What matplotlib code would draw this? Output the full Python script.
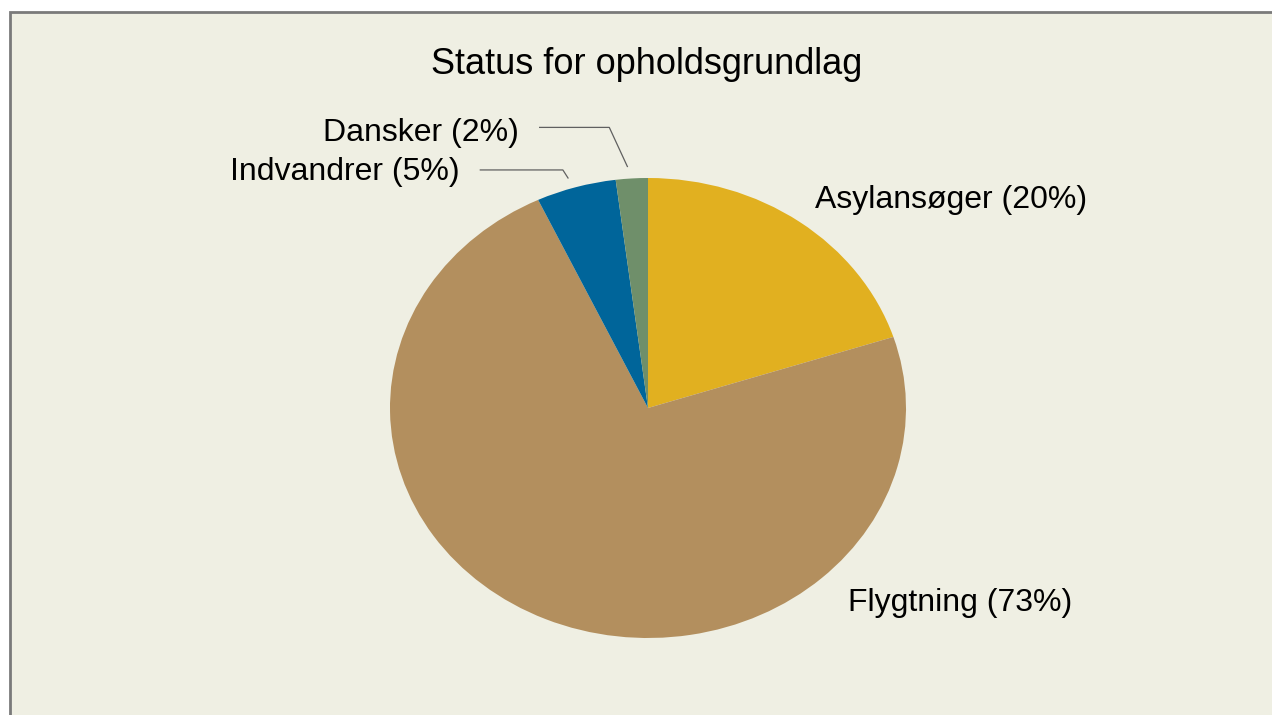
import matplotlib.pyplot as plt
from matplotlib.patches import Rectangle

plt.rcParams['font.family'] = ['Liberation Sans', 'DejaVu Sans']

# data
labels = ['Asylansøger', 'Flygtning', 'Indvandrer', 'Dansker']
shares = [20, 73, 5, 2]
colors = ['#E1B020', '#B38F5E', '#00659A', '#6F8F6A']

# label layout (data coords, radius 1 = pie edge)
label_pos = [(0.647, 0.905, 'left'), (0.774, -0.85, 'left'),
             (-0.73, 1.025, 'right'), (-0.5, 1.195, 'right')]

fig = plt.figure(figsize=(12.72, 7.15), dpi=100, facecolor='white')
fig.patches.append(Rectangle((10 / 1272, -0.05), 1, 1.05 - 12 / 715, transform=fig.transFigure,
                             facecolor='#EFEFE3', edgecolor='#7A7A7A', lw=2, zorder=-5))

# pie is slightly wider than tall in the original
ax = fig.add_axes([325.5 / 1272, 19.5 / 715, 645 / 1272, 575 / 715])
ax.pie(shares, colors=colors, startangle=90, counterclock=False,
       wedgeprops=dict(linewidth=0))
ax.set_aspect('auto')
ax.set_xlim(-1.25, 1.25)
ax.set_ylim(-1.25, 1.25)
ax.patch.set_visible(False)

for name, val, (x, y, ha) in zip(labels, shares, label_pos):
    ax.text(x, y, f'{name} ({val}%)', ha=ha, va='center', fontsize=23, color='black')

# leader lines for the small slices
ax.plot([-0.65, -0.33, -0.31], [1.035, 1.035, 1.0], color='#606060', lw=0.9)
ax.plot([-0.42, -0.15, -0.08], [1.22, 1.22, 1.05], color='#606060', lw=0.9)

fig.text(647 / 1272, 1 - 64 / 715, 'Status for opholdsgrundlag', ha='center', va='center',
         fontsize=26, color='black')

fig.savefig('out.png', dpi=100, facecolor='white')
